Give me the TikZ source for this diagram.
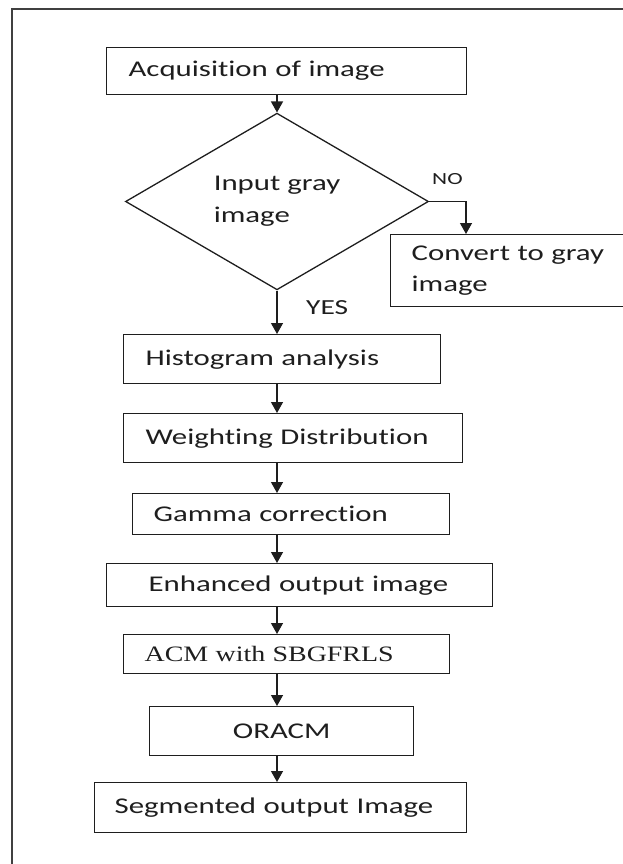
\documentclass[tikz,border=0pt]{standalone}
\usepackage{fontspec}
\setmainfont{Carlito}[FakeStretch=1.37, Ligatures={NoCommon}, RawFeature={-liga;-clig}]
\newfontfamily\acmfont{Liberation Serif}[FakeStretch=1.27]
\usetikzlibrary{shapes.geometric,arrows.meta}
\definecolor{ink}{HTML}{1E1E1E}
\tikzset{
  every node/.style={text=ink},
  boxnode/.style={draw=ink, line width=1.3pt, inner ysep=0pt, align=left, anchor=north west,
    font=\fontsize{22.5}{31}\selectfont},
  arr/.style={draw=ink, line width=1.3pt, -{Triangle[length=11pt,width=12pt]}},
  lbl/.style={inner sep=0pt, anchor=west},
}
\begin{document}
\begin{tikzpicture}[x=1pt,y=-1pt]
\useasboundingbox (0,0) rectangle (622,864);
% frame (only top and left edges fall inside the picture)
\draw[line width=1.7pt, draw=black!75] (12,9) rectangle (660,900);
\coordinate (axis) at (277,0);
\coordinate (nox) at (466,0);

\node[boxnode, inner xsep=22pt, text width=316pt, minimum height=47pt] (acq) at (106,47) {Acquisition of image};
\node[draw=ink, line width=1.3pt, shape=diamond, minimum width=303pt, minimum height=151pt, inner sep=0pt, align=left,
      font=\fontsize{22.5}{32}\selectfont] (dia) at (277,201.5) {Input gray\\image};
\node[boxnode, inner xsep=21pt, text width=218pt, minimum height=72pt] (conv) at (390,234) {Convert to gray\\image};
\node[boxnode, inner xsep=22pt, text width=273pt, minimum height=49pt] (hist) at (123,334) {Histogram analysis};
\node[boxnode, inner xsep=22pt, text width=295pt, minimum height=49pt] (wgt) at (123,413) {Weighting Distribution};
\node[boxnode, inner xsep=21pt, text width=275pt, minimum height=41pt] (gam) at (132,493) {Gamma correction};
\node[boxnode, inner xsep=42pt, text width=302pt, minimum height=43pt] (enh) at (106,563) {Enhanced output image};
\node[boxnode, inner xsep=21pt, text width=284pt, minimum height=39pt, font=\acmfont\fontsize{22}{28}\selectfont] (acm) at (123,634) {ACM with SBGFRLS};
\node[boxnode, inner xsep=10pt, text width=244pt, minimum height=49pt, align=center] (ora) at (149,706) {ORACM};
\node[boxnode, inner xsep=20pt, text width=332pt, minimum height=50pt] (seg) at (94,782) {Segmented output Image};

% connectors
\draw[arr] (acq.south -| axis) -- (dia.north);
\draw[arr] (dia.east) -| (nox |- conv.north);
\draw[arr] (dia.south) -- (hist.north -| axis);
\draw[arr] (hist.south -| axis) -- (wgt.north -| axis);
\draw[arr] (wgt.south -| axis) -- (gam.north -| axis);
\draw[arr] (gam.south -| axis) -- (enh.north -| axis);
\draw[arr] (enh.south -| axis) -- (acm.north -| axis);
\draw[arr] (acm.south -| axis) -- (ora.north -| axis);
\draw[arr] (ora.south -| axis) -- (seg.north -| axis);

% labels
\node[lbl, font=\fontsize{17}{20}\selectfont] (no) at (432,179) {NO};
\node[lbl, font=\fontsize{21.5}{26}\selectfont] (yes) at (306,308) {YES};
\end{tikzpicture}
\end{document}
